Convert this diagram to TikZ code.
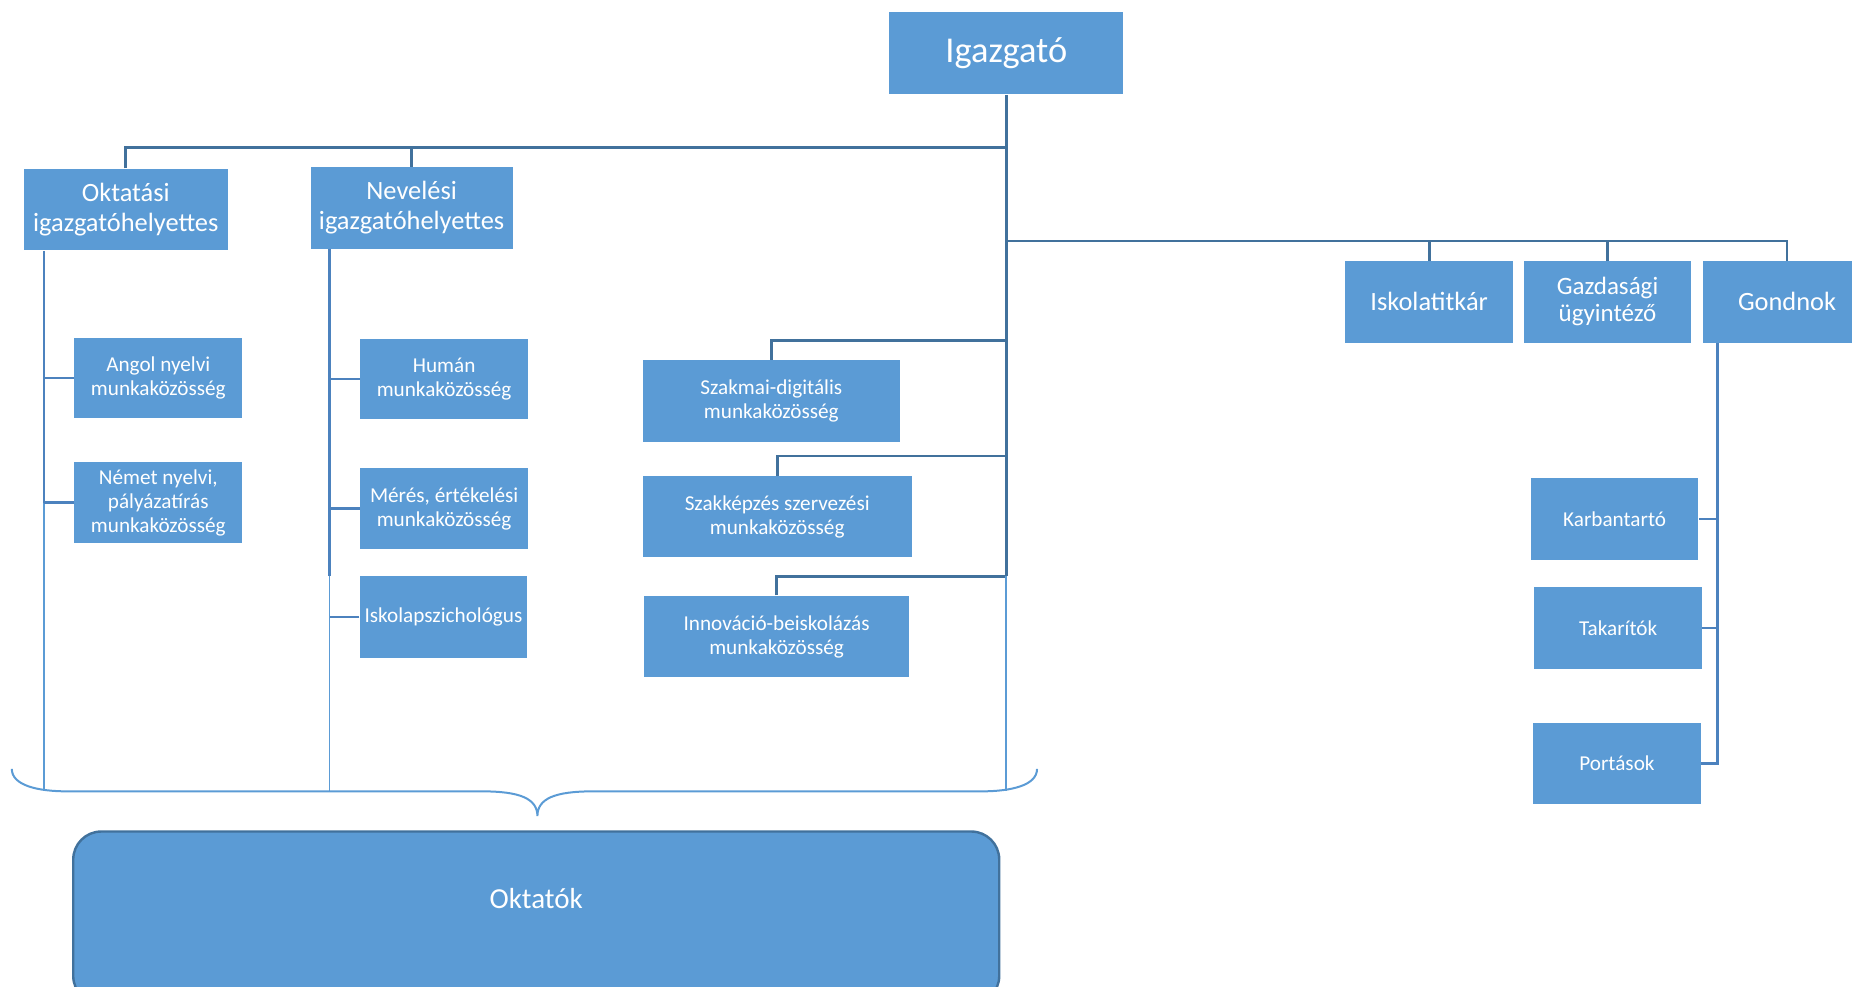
\documentclass[tikz,border=0pt]{standalone}
\usepackage{fontspec}
\setmainfont{Carlito}
\definecolor{boxblue}{RGB}{91,155,213}
\definecolor{linedark}{RGB}{65,113,156}
\definecolor{linemid}{RGB}{76,130,190}
\def\ux{0.5906pt}
\tikzset{
     box/.style={fill=boxblue, text=white, align=center, inner sep=0pt, minimum height=69*\ux},
     bossbox/.style={box, minimum width=198*\ux, minimum height=70*\ux, font=\fontsize{18.2}{20}\selectfont},
     headbox/.style={box, minimum width=#1*\ux, font=\fontsize{13.2}{14.8}\selectfont},
     teambox/.style={box, minimum width=#1*\ux, font=\fontsize{10.6}{12}\selectfont},
     main/.style={draw=linedark, line width=1.4pt},
     sub/.style={draw=linemid, line width=1.2pt},
     faint/.style={draw=boxblue, line width=0.9pt},
     brace/.style={draw=boxblue, line width=1pt},
     groupbox/.style={fill=boxblue, draw=linedark, line width=1.2pt, rounded corners=14pt},
}

\begin{document}
\begin{tikzpicture}[x=\ux, y=-\ux]
\useasboundingbox (0,0) rectangle (1568,835);
\clip (0,0) rectangle (1568,835);

% vezetes
\node[bossbox] (igazgato) at (852,45) {Igazgató};
\node[headbox=173] (oktatasi) at (106.5,177.5) {Oktatási\\igazgatóhelyettes};
\node[headbox=171] (nevelesi) at (348.5,176) {Nevelési\\igazgatóhelyettes};
\node[headbox=142] (titkar) at (1210,255.5) {Iskolatitkár};
\node[headbox=142, font=\fontsize{12.5}{13.6}\selectfont] (gazdasagi) at (1361,255.5) {Gazdasági\\ügyintéző};
\node[headbox=142] (gondnok) at (1513,255.5) {Gondnok};

% munkakozossegek
\node[teambox=142, minimum height=68*\ux] (angol) at (134,320) {Angol nyelvi\\munkaközösség};
\node[teambox=142] (nemet) at (134,425.5) {Német nyelvi,\\pályázatírás\\munkaközösség};
\node[teambox=142, minimum height=68*\ux] (human) at (376,321) {Humán\\munkaközösség};
\node[teambox=142] (meres) at (376,430.5) {Mérés, értékelési\\munkaközösség};
\node[teambox=142] (pszicho) at (375.5,522.5) {Iskolapszichológus};
\node[teambox=218] (szakmai) at (653,339.5) {Szakmai-digitális\\munkaközösség};
\node[teambox=228] (szakkepzes) at (658,437.5) {Szakképzés szervezési\\munkaközösség};
\node[teambox=225] (innovacio) at (657.5,539) {Innováció-beiskolázás\\munkaközösség};
\node[teambox=142] (karbantarto) at (1367,439.5) {Karbantartó};
\node[teambox=142] (takaritok) at (1370,531.5) {Takarítók};
\node[teambox=142] (portasok) at (1369,646.5) {Portások};

% oktatok
\path[groupbox] (62,704) rectangle (846,850);
\node[text=white, font=\fontsize{14.5}{16}\selectfont] (oktatok) at (454,761) {Oktatók};

\coordinate (j1) at (852,125);
\coordinate (j2) at (852,204);
\coordinate (t1) at (852,288);
\coordinate (t2) at (852,386);
\coordinate (t3) at (852,488);
\coordinate (lo) at (37,670);
\coordinate (ln) at (279,670);
\coordinate (lt) at (852,670);
\coordinate (gv) at (1454,646.5);

\draw[main] (igazgato.south) -- (t3);
\draw[main] (oktatasi.north) |- (j1);
\draw[main] (nevelesi.north) -- (nevelesi.north |- j1);
\draw[main] (j2) -| (gondnok.north);
\foreach \n in {titkar,gazdasagi}{
	\draw[main] (\n.north) -- (\n.north |- j2);
}
\foreach \n/\t in {szakmai/t1,szakkepzes/t2,innovacio/t3}{
	\draw[main] (\n.north) |- (\t);
}

\draw[sub] (lo |- oktatasi.south) -- (lo |- nemet.west);
\draw[faint] (lo |- nemet.west) -- (lo);
\foreach \n in {angol,nemet}{
	\draw[sub] (\n.west) -- (\n.west -| lo);
}
\draw[sub] (ln |- nevelesi.south) -- (ln |- pszicho.north);
\draw[faint] (ln |- pszicho.north) -- (ln);
\foreach \n in {human,meres,pszicho}{
	\draw[sub] (\n.west) -- (\n.west -| ln);
}
\draw[faint] (t3) -- (lt);

\draw[sub] (gv |- gondnok.south) -- (gv) -- (portasok.east);
\foreach \n in {karbantarto,takaritok}{
	\draw[sub] (\n.east) -- (\n.east -| gv);
}

% kapcsos zarojel
\draw[brace] (10,651) .. controls (10,665) and (32,670) .. (57,670) -- (408,670)
	.. controls (440,670) and (455,676) .. (455,691)
	.. controls (455,676) and (470,670) .. (502,670) -- (831,670)
	.. controls (856,670) and (878,665) .. (878,651);

\end{tikzpicture}
\end{document}
